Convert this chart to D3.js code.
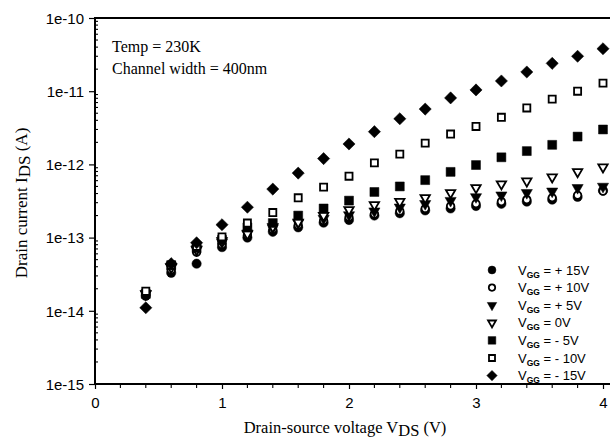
<!DOCTYPE html>
<html><head><meta charset="utf-8">
<script src="https://cdn.jsdelivr.net/npm/d3@7"></script>
<style>
html,body{margin:0;padding:0;background:#fff;}
svg{display:block;}
</style></head>
<body>
<svg id="chart" width="610" height="443"></svg>
<script>
// ---- data ----
const vds = [0.4,0.6,0.8,1.0,1.2,1.4,1.6,1.8,2.0,2.2,2.4,2.6,2.8,3.0,3.2,3.4,3.6,3.8,4.0];
const idsP15 = [1.6e-14,3.3e-14,4.4e-14,7.4e-14,1.0e-13,1.2e-13,1.38e-13,1.6e-13,1.74e-13,2.0e-13,2.15e-13,2.35e-13,2.5e-13,2.7e-13,2.9e-13,3.1e-13,3.3e-13,3.6e-13,4.4e-13];
const idsP10 = [1.7e-14,3.6e-14,6.3e-14,8.0e-14,1.08e-13,1.28e-13,1.48e-13,1.7e-13,1.9e-13,2.1e-13,2.3e-13,2.5e-13,2.7e-13,2.9e-13,3.1e-13,3.3e-13,3.5e-13,3.8e-13,4.3e-13];
const idsP5  = [1.7e-14,4.0e-14,7.0e-14,8.6e-14,1.15e-13,1.35e-13,1.58e-13,1.82e-13,2.04e-13,2.3e-13,2.6e-13,2.9e-13,3.2e-13,3.6e-13,3.8e-13,4.1e-13,4.3e-13,4.8e-13,5.0e-13];
const ids0   = [1.7e-14,3.9e-14,6.8e-14,9.0e-14,1.12e-13,1.4e-13,1.62e-13,2.0e-13,2.4e-13,2.8e-13,3.1e-13,3.5e-13,4.1e-13,4.8e-13,5.4e-13,5.9e-13,6.7e-13,7.9e-13,9.2e-13];
const idsM5  = [1.7e-14,4.2e-14,7.2e-14,9.3e-14,1.38e-13,1.58e-13,2.0e-13,2.5e-13,3.2e-13,4.2e-13,5.0e-13,6.1e-13,7.9e-13,9.8e-13,1.25e-12,1.52e-12,1.85e-12,2.4e-12,3.0e-12];
const idsM10 = [1.85e-14,4.2e-14,7.6e-14,1.02e-13,1.58e-13,2.2e-13,3.5e-13,4.9e-13,6.9e-13,1.05e-12,1.38e-12,1.95e-12,2.6e-12,3.3e-12,4.4e-12,5.9e-12,7.8e-12,1.0e-11,1.29e-11];
const idsM15 = [1.1e-14,4.4e-14,8.5e-14,1.5e-13,2.6e-13,4.6e-13,7.6e-13,1.2e-12,1.9e-12,2.8e-12,4.2e-12,5.7e-12,8.1e-12,1.04e-11,1.38e-11,1.83e-11,2.4e-11,3.0e-11,3.8e-11];
const seriesNames = ["+ 15V","+ 10V","+ 5V"," 0V","- 5V","- 10V","- 15V"];
const xTickLabels = ["0","1","2","3","4"];
const yTickLabels = ["1e-15","1e-14","1e-13","1e-12","1e-11","1e-10"];
const annotation = ["Temp = 230K","Channel width = 400nm"];

// ---- layout ----
const svg = d3.select("#chart");
const L = 95, R = 603, T = 18, B = 384;
const x = d3.scaleLinear().domain([0,4]).range([L,R]);
const y = d3.scaleLog().domain([1e-15,1e-10]).range([B,T]);

const series = [
  {name: seriesNames[0], vals: idsP15, type: "circle", fill: true},
  {name: seriesNames[1], vals: idsP10, type: "circle", fill: false},
  {name: seriesNames[2], vals: idsP5,  type: "tri", fill: true},
  {name: seriesNames[3], vals: ids0,   type: "tri", fill: false},
  {name: seriesNames[4], vals: idsM5,  type: "square", fill: true},
  {name: seriesNames[5], vals: idsM10, type: "square", fill: false},
  {name: seriesNames[6], vals: idsM15, type: "diamond", fill: true}
];

function markerPath(type, fill, scale){
  let s = scale || 1;
  if (type === "circle") return d3.symbol(d3.symbolCircle, (fill?68:44)*s*s)();
  if (type === "square") return d3.symbol(d3.symbolSquare, (fill?80:50)*s*s)();
  if (type === "tri") return d3.symbol(d3.symbolTriangle, (fill?54:38)*s*s)();
  if (type === "diamond") return d3.symbol(d3.symbolSquare, 74*s*s)();
}
function markerTransform(type, cx, cy){
  if (type === "tri") return `translate(${cx},${cy}) rotate(180)`;
  if (type === "diamond") return `translate(${cx},${cy}) rotate(45)`;
  return `translate(${cx},${cy})`;
}
function styleMarker(sel, s){
  sel.attr("fill", s.fill ? "#000" : "#fff")
     .attr("stroke", "#000")
     .attr("stroke-width", s.fill ? 0.5 : 1.8);
}

const sansFont = "Liberation Sans, Arial, sans-serif";
const serifFont = "Liberation Serif, Times New Roman, serif";

// ---- axes ----
const yAxis = d3.axisLeft(y)
  .tickValues(d3.range(-15,-9).map(e => Math.pow(10,e)))
  .tickFormat((d,i) => yTickLabels[i])
  .tickSize(6).tickPadding(5);
const gy = svg.append("g").attr("transform",`translate(${L},0)`).call(yAxis);
gy.select(".domain").remove();
gy.selectAll("text").attr("font-family",sansFont).attr("font-size",15).attr("fill","#000").attr("dy","0.35em");
gy.selectAll("line").attr("stroke","#000").attr("stroke-width",1.2);

// minor y ticks
const minorY = [];
for (let e=-15; e<-10; e++) for (let k=2;k<=9;k++) minorY.push(k*Math.pow(10,e));
svg.append("g").selectAll("line").data(minorY).join("line")
  .attr("x1", L-1).attr("x2", L+3)
  .attr("y1", d=>y(d)).attr("y2", d=>y(d))
  .attr("stroke","#000").attr("stroke-width",1.1);

const xAxis = d3.axisBottom(x).tickValues([0,1,2,3,4])
  .tickFormat((d,i)=>xTickLabels[i]).tickSize(5).tickPadding(8);
const gx = svg.append("g").attr("transform",`translate(0,${B})`).call(xAxis);
gx.select(".domain").remove();
gx.selectAll("text").attr("font-family",sansFont).attr("font-size",15).attr("fill","#000");
gx.selectAll("line").attr("stroke","#000").attr("stroke-width",1.2);
// minor x ticks
const minorX = d3.range(1,20).filter(i=>i%5!==0).map(i=>i*0.2);
svg.append("g").selectAll("line").data(minorX).join("line")
  .attr("x1", d=>x(d)).attr("x2", d=>x(d))
  .attr("y1", B).attr("y2", B+4)
  .attr("stroke","#000").attr("stroke-width",1.1);

// frame
svg.append("line").attr("x1",L).attr("x2",L).attr("y1",T-1).attr("y2",B+1).attr("stroke","#000").attr("stroke-width",2);
svg.append("line").attr("x1",L-1).attr("x2",610).attr("y1",B).attr("y2",B).attr("stroke","#000").attr("stroke-width",2);
svg.append("line").attr("x1",L-1).attr("x2",610).attr("y1",T).attr("y2",T).attr("stroke","#000").attr("stroke-width",2);

// ---- data marks ----
const plot = svg.append("g");
series.forEach(s => {
  const g = plot.append("g");
  g.selectAll("path").data(vds.map((v,i)=>({x:v, y:s.vals[i]}))).join("path")
    .attr("d", markerPath(s.type, s.fill))
    .attr("transform", d => markerTransform(s.type, x(d.x), y(d.y)))
    .call(styleMarker, s);
});

// ---- annotation ----
const ann = svg.append("text").attr("font-family",serifFont)
  .attr("font-size",16).attr("fill","#000");
annotation.forEach((t,i)=> ann.append("tspan").attr("x",112).attr("y",52+i*22).text(t));

// ---- legend ----
const lg = svg.append("g");
const legY0 = 270, legDy = 17.6;
series.forEach((s,i)=>{
  const cy = legY0 + i*legDy;
  lg.append("path").attr("d", markerPath(s.type, s.fill, 0.85))
    .attr("transform", markerTransform(s.type, 492, cy)).call(styleMarker, s);
  const t = lg.append("text").attr("x",518).attr("y",cy+4.5)
    .attr("font-family",sansFont).attr("font-size",13).attr("fill","#000");
  t.append("tspan").text("V");
  t.append("tspan").attr("font-size",8.5).attr("font-weight","bold").attr("dy",3).text("GG");
  t.append("tspan").attr("dy",-3).text(" = " + s.name);
});

// ---- axis titles ----
const xt = svg.append("text").attr("x",345).attr("y",433).attr("text-anchor","middle")
  .attr("font-family",serifFont).attr("font-size",16.5).attr("fill","#000");
xt.append("tspan").text("Drain-source voltage V");
xt.append("tspan").attr("dy",2.5).text("DS");
xt.append("tspan").attr("dy",-2.5).text(" (V)");

const yt = svg.append("text").attr("transform","translate(27,203) rotate(-90)").attr("text-anchor","middle")
  .attr("font-family",serifFont).attr("font-size",17).attr("fill","#000");
yt.append("tspan").text("Drain current I");
yt.append("tspan").attr("dy",3).text("DS");
yt.append("tspan").attr("dy",-3).text(" (A)");
</script>
</body></html>
